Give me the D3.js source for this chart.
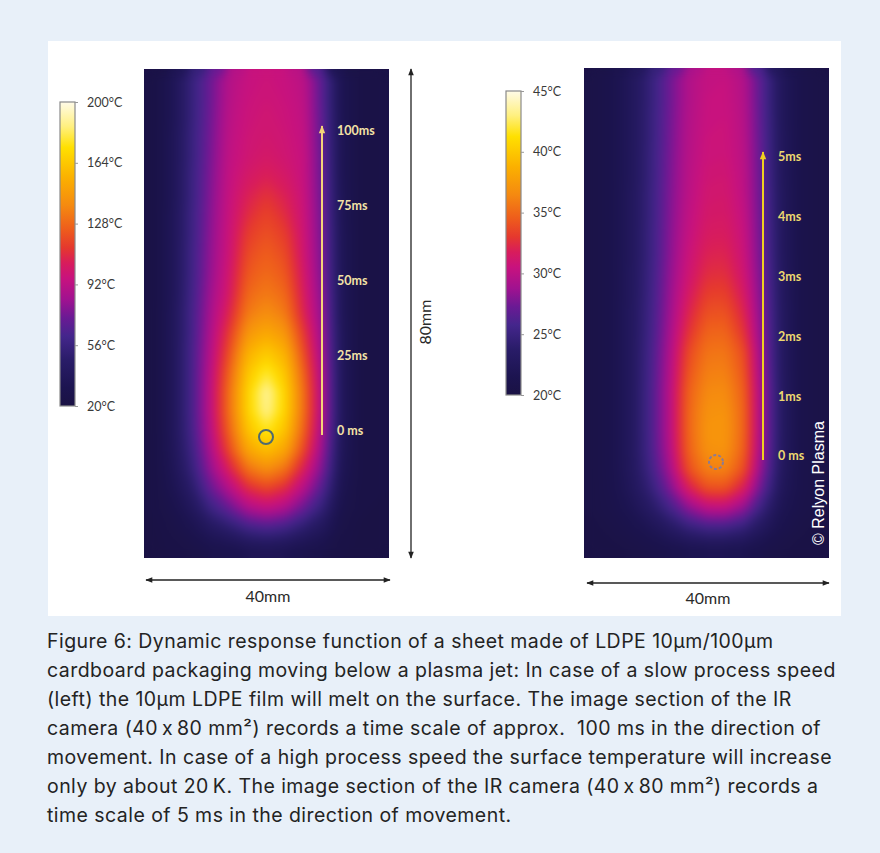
<!DOCTYPE html>
<html><head><meta charset="utf-8">
<script src="https://cdn.jsdelivr.net/npm/d3@7/dist/d3.min.js"></script>
<style>html,body{margin:0;padding:0;background:#e8f0f9;} svg{display:block}</style>
</head><body><svg id="c" width="880" height="853"></svg>
<script>
// ---------------- data ----------------
const leftTickValues = [200, 164, 128, 92, 56, 20];
const rightTickValues = [45, 40, 35, 30, 25, 20];
const leftTimeValues = [100, 75, 50, 25, 0];
const leftTimeLabels = ["100ms", "75ms", "50ms", "25ms", "0 ms"];
const rightTimeValues = [5, 4, 3, 2, 1, 0];
const rightTimeLabels = ["5ms", "4ms", "3ms", "2ms", "1ms", "0 ms"];
const sizeLabels = ["40mm", "80mm"];

// temperature field, slow process (°C), rows top→bottom, 13 columns
const leftGrid = [
[22,34,54,72,89,95,97,95,91,66,32,23,22],
[22,34,54,72,90,96,98,96,92,66,32,23,22],
[22,34,54,73,91,97,99,97,93,67,32,23,22],
[22,35,55,74,92,98,100,98,94,68,33,23,22],
[22,35,55,75,93,99,102,99,95,69,33,23,22],
[22,35,56,76,94,102,106,102,95,70,33,23,22],
[22,35,56,77,95,106,112,106,96,71,34,23,22],
[22,36,57,78,96,110,117,110,97,72,34,23,22],
[22,36,57,79,97,115,121,115,98,73,35,23,22],
[22,36,58,80,98,119,125,119,99,74,35,23,22],
[22,36,58,81,100,123,129,123,101,75,35,23,22],
[22,36,59,83,102,128,134,128,103,77,36,23,22],
[22,37,60,85,107,134,141,134,106,79,36,23,22],
[22,37,60,87,114,144,152,144,113,81,37,23,22],
[22,37,61,89,120,155,165,155,119,83,37,23,22],
[22,37,61,91,126,163,178,163,125,85,38,23,22],
[22,37,61,92,130,168,190,168,129,86,38,23,22],
[22,37,61,92,130,168,188,168,129,86,38,23,22],
[22,37,60,90,126,162,176,162,125,84,37,23,22],
[22,36,57,86,118,150,160,150,117,80,36,23,22],
[22,34,53,80,104,130,140,130,103,74,34,23,22],
[22,31,46,70,88,108,116,108,88,64,31,22,22],
[22,27,38,56,70,86,92,86,70,52,27,22,21],
[21,24,30,40,48,58,62,58,48,38,24,21,21],
[21,22,24,28,30,34,36,34,30,27,22,21,21]
];

// temperature field, fast process (°C)
const rightGrid = [
[20.5,21.2,22.5,24.6,27.2,29.4,30.3,30.4,29.5,26.2,22.5,21,20.5],
[20.5,21.2,22.5,24.6,27.2,29.4,30.4,30.5,29.6,26.2,22.5,21,20.5],
[20.5,21.2,22.5,24.7,27.3,29.5,30.5,30.6,29.7,26.3,22.5,21,20.5],
[20.5,21.2,22.5,24.7,27.4,29.6,30.6,30.7,29.8,26.4,22.6,21,20.5],
[20.5,21.2,22.5,24.8,27.5,29.7,30.7,30.8,29.9,26.5,22.6,21,20.5],
[20.5,21.2,22.5,24.8,27.6,29.8,30.9,31,30,26.6,22.6,21,20.5],
[20.5,21.2,22.6,24.9,27.7,29.9,31.1,31.2,30.1,26.7,22.7,21,20.5],
[20.5,21.2,22.6,24.9,27.8,30.1,31.3,31.4,30.3,26.8,22.7,21,20.5],
[20.5,21.2,22.6,25,27.9,30.3,31.6,31.7,30.5,26.9,22.8,21,20.5],
[20.5,21.2,22.6,25,28,30.6,32,32.1,30.7,27,22.8,21,20.5],
[20.5,21.2,22.7,25.1,28.2,30.9,32.5,32.6,31,27.2,22.9,21,20.5],
[20.5,21.2,22.7,25.2,28.4,31.4,33.2,33.3,31.5,27.4,22.9,21,20.5],
[20.5,21.2,22.8,25.3,28.6,32,34,34.1,32.1,27.6,23,21,20.5],
[20.5,21.2,22.8,25.4,28.9,32.7,34.8,34.9,32.8,27.8,23,21,20.5],
[20.5,21.2,22.8,25.6,29.2,33.6,35.5,35.6,33.8,28.1,23,21,20.5],
[20.5,21.2,22.8,25.7,29.4,34.1,36,36.1,34.2,28.3,23,21,20.5],
[20.5,21.2,22.8,25.8,29.6,34.6,36.5,36.6,34.6,28.5,23.1,21,20.5],
[20.5,21.2,22.8,25.8,29.6,34.8,36.9,37,34.8,28.5,23.1,21,20.5],
[20.5,21.2,22.8,25.8,29.6,34.8,37.1,37.2,34.8,28.5,23.1,21,20.5],
[20.5,21.2,22.8,25.7,29.4,34.6,36.9,37,34.6,28.3,23,21,20.5],
[20.5,21.2,22.7,25.3,28.8,33.8,36,36.1,33.8,27.8,22.8,21,20.5],
[20.5,21.1,22.4,24.5,27.5,31.4,33.8,33.9,31.5,26.6,22.4,21,20.5],
[20.5,20.9,21.8,23.3,25.4,28,29.8,29.9,28.2,24.7,21.8,20.8,20.5],
[20.3,20.6,21.1,21.9,23.1,24.5,25.3,25.3,24.5,22.7,21.2,20.5,20.3],
[20.2,20.3,20.5,20.8,21.2,21.6,21.8,21.8,21.6,21,20.5,20.3,20.2]
];

// colour map (fraction of scale → colour)
const cmapPos = [0.00,0.06,0.15,0.23,0.29,0.35,0.42,0.47,0.52,0.58,0.66,0.75,0.85,0.92,1.00];
const cmapCol = ["#1a1244","#1c1450","#291c68","#44268c","#6a1a94","#a01290","#c8127e","#d81c5c","#e5382e","#ee5c1c","#f58a10","#fbb000","#ffe000","#fff080","#fffbe8"];

const caption = [
"Figure 6: Dynamic response function of a sheet made of LDPE 10µm/100µm",
"cardboard packaging moving below a plasma jet: In case of a slow process speed",
"(left) the 10µm LDPE film will melt on the surface. The image section of the IR",
"camera (40\u2009x\u200980 mm²) records a time scale of approx.  100 ms in the direction of",
"movement. In case of a high process speed the surface temperature will increase",
"only by about 20\u2009K. The image section of the IR camera (40\u2009x\u200980 mm²) records a",
"time scale of 5 ms in the direction of movement."
];
const credit = "© Relyon Plasma";

// ---------------- drawing ----------------
const svg = d3.select("#c");
const defs = svg.append("defs");
const cmap = d3.scaleLinear().domain(cmapPos).range(cmapCol).interpolate(d3.interpolateRgb).clamp(true);

svg.append("rect").attr("x",0).attr("y",0).attr("width",880).attr("height",853).attr("fill","#e8f0f9");
svg.append("rect").attr("x",48).attr("y",41).attr("width",793).attr("height",575).attr("fill","#ffffff");

function marker(id, color, w, h) {
  defs.append("marker").attr("id", id).attr("viewBox","0 0 10 10").attr("refX",9).attr("refY",5)
    .attr("markerWidth", w).attr("markerHeight", h).attr("markerUnits","userSpaceOnUse")
    .attr("orient","auto-start-reverse")
    .append("path").attr("d","M0,1 L10,5 L0,9 Z").attr("fill", color);
}
marker("mBlack", "#222", 9, 7);
marker("mYelL", "#f4d47a", 9, 8);
marker("mYelR", "#f0d020", 9, 8);

const f = defs.append("filter").attr("id","soft").attr("x","-5%").attr("y","-5%").attr("width","110%").attr("height","110%")
  .attr("color-interpolation-filters","sRGB");
f.append("feGaussianBlur").attr("stdDeviation", 4).attr("result","b");
const ct = f.append("feComponentTransfer").attr("in","b");
ct.append("feFuncA").attr("type","linear").attr("slope",0).attr("intercept",1);

function drawPanel(cfg) {
  const { grid, x0, y0, w, h, vmin, vmax, step, id } = cfg;
  const ny = grid.length, nx = grid[0].length;
  const values = grid.flat();
  const col = d3.scaleLinear().domain([vmin, vmax]).range([0, 1]);
  const thresholds = d3.range(vmin - step, vmax, step);
  const contours = d3.contours().size([nx, ny]).thresholds(thresholds)(values);
  const sx = w / nx, sy = h / ny;
  const proj = d3.geoTransform({ point(x, y) { this.stream.point(x0 + x * sx, y0 + y * sy); } });
  const path = d3.geoPath(proj);

  defs.append("clipPath").attr("id", "clip" + id)
    .append("rect").attr("x", x0).attr("y", y0).attr("width", w).attr("height", h);
  const outer = svg.append("g").attr("clip-path", `url(#clip${id})`);
  const g = outer.append("g").attr("filter", "url(#soft)");
  g.selectAll("path").data(contours).join("path")
    .attr("d", path)
    .attr("fill", d => cmap(col(Math.max(vmin, d.value + step / 2))));
}

const L = { x0: 144, y0: 69, w: 245, h: 489 };
drawPanel({ grid: leftGrid, ...L, vmin: 20, vmax: 200, step: 1.5, id: "L" });
const R = { x0: 584, y0: 68, w: 245, h: 490 };
drawPanel({ grid: rightGrid, ...R, vmin: 20, vmax: 45, step: 0.2, id: "R" });

function colorBar(x, yTop, yBot, vals, id) {
  const ys = d3.scaleLinear().domain([d3.min(vals), d3.max(vals)]).range([yBot, yTop]);
  const grad = defs.append("linearGradient").attr("id", "g" + id)
    .attr("x1", 0).attr("y1", 1).attr("x2", 0).attr("y2", 0);
  cmapPos.forEach((p, i) => grad.append("stop").attr("offset", p).attr("stop-color", cmapCol[i]));
  const bw = 15;
  svg.append("rect").attr("x", x).attr("y", yTop).attr("width", bw).attr("height", yBot - yTop)
    .attr("fill", `url(#g${id})`).attr("stroke", "#8a8a8a").attr("stroke-width", 1.2);
  const ax = d3.axisRight(ys).tickValues(vals).tickSize(3).tickFormat(d => d + "°C");
  const ag = svg.append("g").attr("transform", `translate(${x + bw},0)`).call(ax);
  ag.select(".domain").remove();
  ag.selectAll(".tick line").attr("stroke", "#999");
  ag.selectAll(".tick text").attr("x", 12).attr("fill", "#3a3a3a")
    .style("font-family", "Lato, 'Open Sans', sans-serif").style("font-size", "12.5px");
}
colorBar(60, 102, 406, leftTickValues, "L");
colorBar(506, 91, 395, rightTickValues, "R");

function timeArrow(x, yBot, yTop, vals, labels, col, txtCol, mk) {
  const ys = d3.scaleLinear().domain([d3.min(vals), d3.max(vals)]).range([yBot, yTop]);
  svg.append("line").attr("x1", x).attr("x2", x).attr("y1", yBot + 4).attr("y2", yTop - 5)
    .attr("stroke", col).attr("stroke-width", 2).attr("marker-end", `url(#${mk})`);
  svg.selectAll(null).data(vals).join("text")
    .attr("x", x + 15).attr("y", d => ys(d)).attr("dy", "0.35em")
    .attr("fill", txtCol).style("font-family", "Lato, 'Open Sans', sans-serif")
    .style("font-weight", "700").style("font-size", "12.5px")
    .text((d, i) => labels[i]);
}
timeArrow(322, 431, 131, leftTimeValues, leftTimeLabels, "#f4d47a", "#f3e2a6", "mYelL");
timeArrow(763, 456, 157, rightTimeValues, rightTimeLabels, "#f0d020", "#ecd870", "mYelR");

svg.append("circle").attr("cx", 266).attr("cy", 437).attr("r", 7)
  .attr("fill", "none").attr("stroke", "#4f6a70").attr("stroke-width", 2);
svg.append("circle").attr("cx", 716).attr("cy", 462).attr("r", 7)
  .attr("fill", "none").attr("stroke", "#8c7a94").attr("stroke-width", 2).attr("stroke-dasharray", "3,2");

function dimLine(x1, y1, x2, y2) {
  svg.append("line").attr("x1", x1).attr("y1", y1).attr("x2", x2).attr("y2", y2)
    .attr("stroke", "#222").attr("stroke-width", 1.3)
    .attr("marker-start", "url(#mBlack)").attr("marker-end", "url(#mBlack)");
}
dimLine(146, 580, 390, 580);
dimLine(587, 583, 829, 583);
dimLine(411, 69, 411, 558);

const lblStyle = s => s.attr("fill", "#2a2a2a").style("font-family", "Lato, 'Open Sans', sans-serif").style("font-size", "16px");
lblStyle(svg.append("text").attr("x", 268).attr("y", 602).attr("text-anchor", "middle").text(sizeLabels[0]));
lblStyle(svg.append("text").attr("x", 708).attr("y", 604).attr("text-anchor", "middle").text(sizeLabels[0]));
lblStyle(svg.append("text").attr("transform", "translate(431,322) rotate(-90)").attr("text-anchor", "middle").text(sizeLabels[1]));

svg.append("text").attr("transform", "translate(824,483) rotate(-90)").attr("text-anchor", "middle")
  .attr("fill", "#ffffff").style("font-family", "'Liberation Sans', Arial, sans-serif").style("font-size", "16px")
  .text(credit);

svg.append("g").selectAll("text").data(caption).join("text")
  .attr("x", 47).attr("y", (d, i) => 648 + i * 29)
  .attr("fill", "#232323").style("font-family", "Inter, sans-serif").style("font-size", "19.5px")
  .style("letter-spacing", "0.45px")
  .style("white-space", "pre").attr("xml:space", "preserve")
  .text(d => d);
</script></body></html>
